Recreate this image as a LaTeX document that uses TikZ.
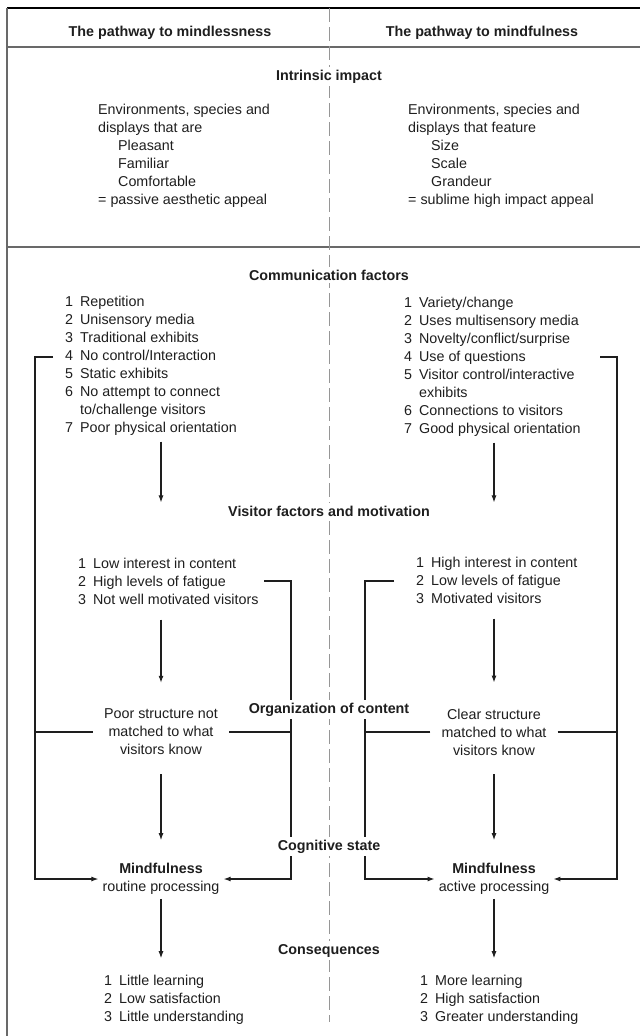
\documentclass[tikz,border=0pt]{standalone}
\usepackage{fontspec}
\setmainfont{Liberation Sans}
\usetikzlibrary{arrows.meta, positioning, calc, backgrounds}
\definecolor{cInk}{RGB}{30,30,30}
\definecolor{cRule}{RGB}{105,105,105}
\definecolor{cDash}{RGB}{150,150,150}
\newcommand{\basefont}{\fontsize{14.3bp}{18bp}\selectfont}
\newcommand{\numrows}[1]{\begin{tabular}[t]{@{}r@{\hspace{7bp}}l@{}}#1\end{tabular}}
\newcommand{\plainrows}[1]{\begin{tabular}[t]{@{}l@{}}#1\end{tabular}}
\tikzset{
	hdr/.style   ={font=\basefont\bfseries, anchor=base, inner sep=2bp},
	ttl/.style   ={font=\basefont\bfseries, anchor=base, fill=white, inner sep=3bp},
	lst/.style   ={anchor=base west, inner sep=0pt},
	blk/.style   ={align=center, fill=white, inner xsep=11bp, inner ysep=3bp},
	sig/.style   ={-{Latex[length=7bp, width=5bp]}, line width=1.1bp, cInk},
	rulel/.style ={cRule, line width=1.5bp},
}
\begin{document}
\begin{tikzpicture}[x=1bp, y=-1bp, font=\basefont, text=cInk]
	\useasboundingbox (0,0) rectangle (640,1036);
	% column heads
	\node[hdr] (hdL) at (170,36) {The pathway to mindlessness};
	\node[hdr] (hdR) at (482,36) {The pathway to mindfulness};
	% intrinsic impact
	\node[ttl] (impact) at (329,80) {Intrinsic impact};
	\node[lst] (envL) at (98,114) {\plainrows{Environments, species and\\ displays that are\\ \hspace*{20bp}Pleasant\\ \hspace*{20bp}Familiar\\ \hspace*{20bp}Comfortable\\ = passive aesthetic appeal}};
	\node[lst] (envR) at (408,114) {\plainrows{Environments, species and\\ displays that feature\\ \hspace*{23bp}Size\\ \hspace*{23bp}Scale\\ \hspace*{23bp}Grandeur\\ = sublime high impact appeal}};
	% communication factors
	\node[ttl] (comm) at (329,280) {Communication factors};
	\node[lst] (commL) at (65,306) {\numrows{1 & Repetition\\ 2 & Unisensory media\\ 3 & Traditional exhibits\\ 4 & No control/Interaction\\ 5 & Static exhibits\\ 6 & No attempt to connect\\ & to/challenge visitors\\ 7 & Poor physical orientation}};
	\node[lst] (commR) at (404,307) {\numrows{1 & Variety/change\\ 2 & Uses multisensory media\\ 3 & Novelty/conflict/surprise\\ 4 & Use of questions\\ 5 & Visitor control/interactive\\ & exhibits\\ 6 & Connections to visitors\\ 7 & Good physical orientation}};
	% visitor factors
	\node[ttl] (visit) at (329,516) {Visitor factors and motivation};
	\node[lst] (visL) at (78,568) {\numrows{1 & Low interest in content\\ 2 & High levels of fatigue\\ 3 & Not well motivated visitors}};
	\node[lst] (visR) at (416,567) {\numrows{1 & High interest in content\\ 2 & Low levels of fatigue\\ 3 & Motivated visitors}};
	% organization
	\node[ttl] (org) at (329,713) {Organization of content};
	\node[blk] (orgL) at (161,732) {Poor structure not\\ matched to what\\ visitors know};
	\node[blk] (orgR) at (494,732) {Clear structure\\ matched to what\\ visitors know};
	% cognitive state
	\node[ttl] (cog) at (329,850) {Cognitive state};
	\node[align=center, inner sep=4bp] (mindL) at (161,879) {\textbf{Mindfulness}\\ routine processing};
	\node[align=center, inner sep=4bp] (mindR) at (494,879) {\textbf{Mindfulness}\\ active processing};
	% consequences
	\node[ttl] (conseq) at (329,954) {Consequences};
	\node[lst] (conL) at (104,985) {\numrows{1 & Little learning\\ 2 & Low satisfaction\\ 3 & Little understanding}};
	\node[lst] (conR) at (420,985) {\numrows{1 & More learning\\ 2 & High satisfaction\\ 3 & Greater understanding}};
	% bracket ends
	\coordinate (ctrlL) at (53,357);
	\coordinate (outL) at (35,357);
	\coordinate (ctrlR) at (600,357);
	\coordinate (outR) at (617,357);
	\coordinate (fatL) at (264,581);
	\coordinate (inL) at (291,581);
	\coordinate (fatR) at (394,581);
	\coordinate (inR) at (365,581);
	\begin{scope}[on background layer]
		% frame
		\draw[line width=1.5bp, black] (7,8) -- (640,8);
		\draw[rulel] (7,8) -- (7,1036);
		\draw[rulel] (7,47) -- (640,47);
		\draw[rulel] (7,247) -- (640,247);
		\draw[cDash, line width=0.8bp, dash pattern=on 14bp off 5bp] (329,8) -- (329,1022);
		% down the columns
		\draw[sig, shorten <=4bp] (commL.south -| orgL) -- (visit.north -| orgL);
		\draw[sig, shorten <=4bp] (commR.south -| orgR) -- (visit.north -| orgR);
		\draw[sig, shorten <=10bp, shorten >=23bp] (visL.south -| orgL) -- (orgL.north);
		\draw[sig, shorten <=10bp, shorten >=23bp] (visR.south -| orgR) -- (orgR.north);
		\draw[sig, shorten <=16bp, shorten >=19bp] (orgL.south) -- (mindL.north);
		\draw[sig, shorten <=16bp, shorten >=19bp] (orgR.south) -- (mindR.north);
		\draw[sig, shorten >=14bp] (mindL.south) -- (mindL.south |- conL.north);
		\draw[sig, shorten >=14bp] (mindR.south) -- (mindR.south |- conR.north);
		% brackets
		\draw[sig] (ctrlL) -- (outL) |- (mindL.west);
		\draw[sig] (fatL) -- (inL) |- (mindL.east);
		\draw[sig] (fatR) -- (inR) |- (mindR.west);
		\draw[sig] (ctrlR) -- (outR) |- (mindR.east);
		\draw[line width=1.1bp, cInk] (orgL.west) -- (orgL.west -| outL);
		\draw[line width=1.1bp, cInk] (orgL.east) -- (orgL.east -| inL);
		\draw[line width=1.1bp, cInk] (orgR.west) -- (orgR.west -| inR);
		\draw[line width=1.1bp, cInk] (orgR.east) -- (orgR.east -| outR);
	\end{scope}
\end{tikzpicture}
\end{document}
